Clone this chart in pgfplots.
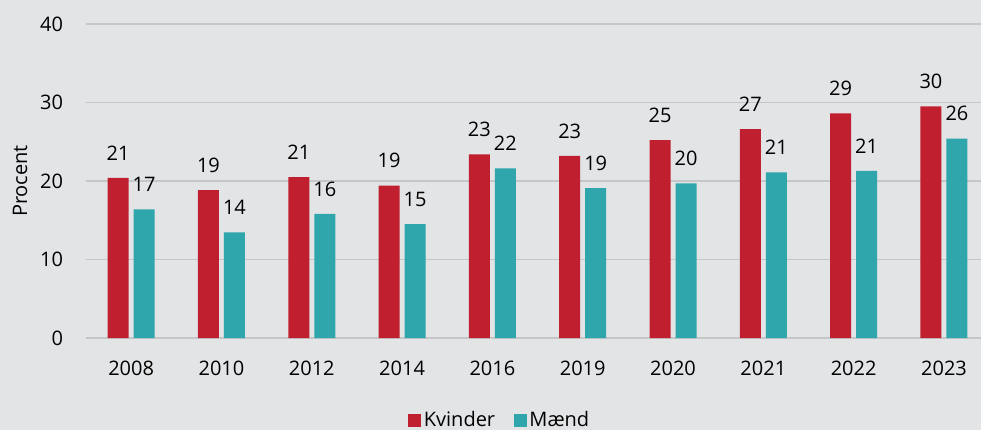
\documentclass[border=0pt]{standalone}
\usepackage{fontspec}
\setmainfont{Open Sans}
\usepackage{pgfplots}
\pgfplotsset{compat=1.18}
\definecolor{bgc}{HTML}{E3E4E6}
\definecolor{gridc}{HTML}{C5C6C8}
\definecolor{kred}{HTML}{C01F30}
\definecolor{mteal}{HTML}{2EA6AB}
\begin{document}
\begin{tikzpicture}
\fill[bgc] (0,0) rectangle (735.75pt,322.5pt);
\path[use as bounding box] (0,0) rectangle (735.75pt,322.5pt);
\begin{axis}[
  at={(64.5pt,69pt)}, anchor=south west,
  scale only axis, width=671.25pt, height=235.5pt,
  xmin=-0.5, xmax=9.41, ymin=0, ymax=40,
  ytick={0,10,20,30,40},
  xtick={0,...,9},
  xticklabels={2008,2010,2012,2014,2016,2019,2020,2021,2022,2023},
  axis line style={draw=none},
  major tick length=0pt,
  ymajorgrids, grid style={gridc, line width=0.9pt},
  font=\fontsize{15}{18}\selectfont,
  /pgf/number format/assume math mode=true,
  xticklabel style={anchor=north, inner sep=0pt, yshift=-17pt},
  yticklabel style={anchor=east, inner sep=0pt, xshift=-17pt},
  ylabel={Procent},
  every axis y label/.style={at={(rel axis cs:0,0.5)}, xshift=-49.5pt, rotate=90, anchor=center},
  ybar, bar width=15.75pt,
  point meta=explicit symbolic,
  nodes near coords,
  every node near coord/.append style={anchor=south, inner sep=0pt, yshift=13pt, font=\fontsize{15}{18}\selectfont, text=black},
  legend columns=2,
  legend style={draw=none, fill=none, at={(rel axis cs:0.4626,0)}, yshift=-61.5pt, anchor=center,
    font=\fontsize{15}{18}\selectfont, /tikz/every even column/.append style={column sep=12pt}},
  legend image code/.code={\fill[#1] (0pt,-4.875pt) rectangle (9.75pt,4.875pt);},
]
\addplot[fill=kred, draw=none, bar shift=-9.75pt] coordinates {
(0,20.4) [21] (1,18.85) [19] (2,20.5) [21] (3,19.4) [19] (4,23.4) [23]
(5,23.2) [23] (6,25.2) [25] (7,26.6) [27] (8,28.6) [29] (9,29.5) [30]};
\addplot[fill=mteal, draw=none, bar shift=9.75pt] coordinates {
(0,16.4) [17] (1,13.45) [14] (2,15.8) [16] (3,14.5) [15] (4,21.6) [22]
(5,19.1) [19] (6,19.7) [20] (7,21.1) [21] (8,21.3) [21] (9,25.4) [26]};
\legend{Kvinder, Mænd}
\end{axis}
\end{tikzpicture}
\end{document}
